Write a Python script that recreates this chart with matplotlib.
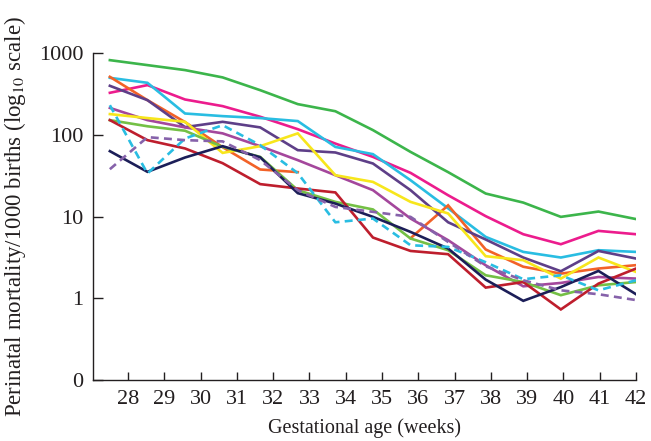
import numpy as np
import matplotlib
matplotlib.use("Agg")
from matplotlib import pyplot as plt

plt.rcParams['font.family'] = ['Liberation Serif', 'DejaVu Serif']
plt.rcParams['mathtext.fontset'] = 'stix'

weeks = list(range(28, 43))
nan = np.nan

# perinatal mortality per 1000 births, one list per series
green = [818, 711, 618, 503, 351, 237, 194, 114, 61.7, 34.9, 19.1, 14.8, 9.9, 11.5, 9.3]
pink = [326, 405, 270, 224, 166, 117, 78, 53.6, 34.2, 18.2, 10.1, 6.07, 4.58, 6.67, 6.07]
cyan = [497, 432, 182, 169, 160, 147, 71, 57.9, 27.8, 12.6, 5.63, 3.69, 3.15, 3.87, 3.69]
orange = [511, 265, 143, 70.5, 37.6, 34.9, nan, nan, 5.42, 13.7, 3.95, 2.43, 2.0, 2.31, 2.54]
dark_purple = [397, 265, 124, 144, 123, 64.8, 60.7, 44.5, 21, 8.5, 5.23, 3.15, 2.14, 3.79, 3.06]
violet = [213, 151, 123, 104, 72.5, 48.9, 32, 21, 9.45, 5.13, 2.53, 1.40, 1.54, 1.82, 1.74]
yellow = [179, 160, 144, 60, 72.5, 104, 32, 26.5, 15.1, 10.9, 3.27, 2.92, 1.74, 3.15, 2.1]
light_green = [151, 127, 112, 71, 53.6, 21, 15.1, 12.2, 5.38, 3.87, 1.91, 1.58, 1.09, 1.44, 1.58]
dark_red = [151, 85.9, 68, 44.9, 24.9, 22, 19.7, 5.53, 3.79, 3.46, 1.35, 1.58, 0.73, 1.51, 2.31]
navy = [63, 35.2, 52.7, 72.5, 53, 19.3, 14.4, 9.9, 6.48, 4.06, 1.69, 0.93, 1.37, 2.16, 1.12]
cyan_dashed = [230, 33.6, 90, 131, 74.6, 33.9, 8.5, 9.45, 4.45, 4.25, 2.76, 1.71, 1.91, 1.25, 1.66]
purple_dashed = [37.9, 93.5, 85.9, 83, 48.9, 21, 13.1, 11.4, 9.9, 4.89, 2.46, 1.66, 1.25, 1.12, 0.95]

series = [
    (green, '#3cb54b', '-'),
    (pink, '#ec1c8d', '-'),
    (cyan, '#29bde2', '-'),
    (orange, '#f26228', '-'),
    (dark_purple, '#5e3f88', '-'),
    (violet, '#a4479c', '-'),
    (yellow, '#f7e61c', '-'),
    (light_green, '#74c045', '-'),
    (dark_red, '#be1e2d', '-'),
    (navy, '#1c1e58', '-'),
    (cyan_dashed, '#29bde2', (0, (3, 2))),
    (purple_dashed, '#8662aa', (0, (3, 2))),
]

# the points sit evenly from 27.5 to 42 in the original, not on the ticks
xpos = [27.5 + (w - 28) * 14.5 / 14 for w in weeks]

fig = plt.figure(figsize=(6.51, 4.41), dpi=100)
ax = fig.add_axes([0.1429, 0.1383, 0.977 - 0.1429, 0.7415])

for vals, col, ls in series:
    ax.plot(xpos, vals, color=col, linestyle=ls, linewidth=1.9, solid_joinstyle='miter')

ax.set_yscale('log')
ax.set_ylim(0.1, 1000)
ax.set_xlim(27.036, 42)
ax.set_yticks([0.1, 1, 10, 100, 1000])
ax.set_yticklabels(['0', '1', '10', '100', '1000'])
ax.yaxis.set_minor_locator(matplotlib.ticker.NullLocator())
ax.set_xticks(weeks)
ax.set_xticklabels([str(w) for w in weeks])

for s in ['top', 'right']:
    ax.spines[s].set_visible(False)
for s in ['left', 'bottom']:
    ax.spines[s].set_color('#231f20')
    ax.spines[s].set_linewidth(1.0)

ax.tick_params(axis='y', direction='in', length=7, width=1, pad=7, labelsize=16, colors='#231f20')
ax.tick_params(axis='x', direction='in', length=6, width=1, pad=7, labelsize=16, colors='#231f20')

ax.set_xlabel('Gestational age (weeks)', fontsize=14.5, color='#231f20', labelpad=7)
ax.set_ylabel(r'Perinatal mortality/1000 births (log$_{10}$ scale)', fontsize=16.5,
              color='#231f20', labelpad=8)

fig.savefig('out.png', dpi=100)
